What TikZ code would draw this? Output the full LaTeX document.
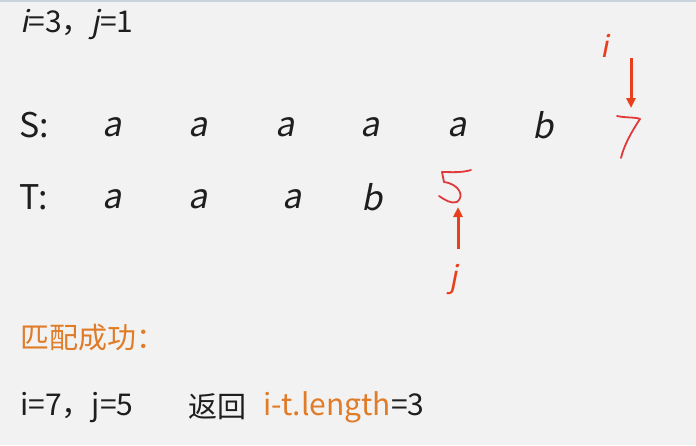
\documentclass[tikz,border=0pt]{standalone}
\usepackage{fontspec}
\setmainfont{Noto Sans CJK SC}[ItalicFont={Noto Sans CJK SC},ItalicFeatures={FakeSlant=0.2}]
\usepackage{tikz}
\usetikzlibrary{arrows.meta,positioning}
\usepackage{xcolor}
\definecolor{PageBack}{HTML}{F2F2F2}
\definecolor{RuleBlue}{HTML}{C9D3DE}
\definecolor{TextMain}{HTML}{1E1E1E}
\definecolor{PenRed}{HTML}{E8401C}
\definecolor{InkRed}{HTML}{E03A3A}
\definecolor{HeadOrange}{HTML}{E07B28}
\tikzset{
  labeltext/.style={anchor=west,inner sep=0pt,text=TextMain,font=\fontsize{30}{32}\selectfont},
  rowname/.style={anchor=west,inner sep=0pt,text=TextMain,font=\fontsize{34}{36}\selectfont},
  letter/.style={anchor=center,inner sep=0pt,text=TextMain,font=\itshape\fontsize{34}{36}\selectfont},
  pointer/.style={anchor=center,inner sep=0pt,text=PenRed,font=\itshape\fontsize{30}{32}\selectfont},
  penarrow/.style={-{Triangle[length=10pt,width=9pt]},line width=3pt,draw=PenRed},
  handwrite/.style={draw=InkRed,line width=1.8pt,line cap=round,line join=round}
}
\begin{document}
\begin{tikzpicture}[x=1pt,y=-1pt]
\fill[PageBack] (0,0) rectangle (696,445);
\useasboundingbox (0,0) rectangle (696,445);
\draw[RuleBlue,line width=2pt] (0,1) -- (696,1);
% state line
\node[labeltext] (state) at (20,25) {\textit{i}=3，\textit{j}=1};
% main string S
\node[rowname] (sname) at (19,125) {S:};
\node[letter] (s1) at (112,127) {a};
\node[letter] (s2) at (198,127) {a};
\node[letter] (s3) at (285,127) {a};
\node[letter] (s4) at (370,127) {a};
\node[letter] (s5) at (457,127) {a};
\node[letter] (s6) at (543,125) {b};
% pattern T
\node[rowname] (tname) at (19,197) {T:};
\node[letter] (t1) at (112,199) {a};
\node[letter] (t2) at (198,199) {a};
\node[letter] (t3) at (292,199) {a};
\node[letter] (t4) at (372,197) {b};
% handwritten indices
\coordinate (seven) at (628,137);
\draw[handwrite] ([shift={(-11,-21)}]seven) .. controls ([shift={(-2,-19)}]seven) and ([shift={(8,-20)}]seven) .. ([shift={(12,-18)}]seven)
  .. controls ([shift={(4,-6)}]seven) and ([shift={(-4,8)}]seven) .. ([shift={(-7,21)}]seven);
\coordinate (five) at (455,186);
\draw[handwrite] ([shift={(16,-16)}]five) .. controls ([shift={(6,-13)}]five) and ([shift={(-4,-14)}]five) .. ([shift={(-13,-14)}]five)
  -- ([shift={(-11,-4)}]five) .. controls ([shift={(4,-2)}]five) and ([shift={(10,10)}]five) .. ([shift={(2,16)}]five)
  .. controls ([shift={(-4,18)}]five) and ([shift={(-10,14)}]five) .. ([shift={(-16,10)}]five);
\node[pointer] (ilab) at (605,46) {i};
\coordinate (itop) at (631,58);
\coordinate (ibot) at (631,108);
\draw[penarrow] (itop) -- (ibot);
\node[pointer] (jlab) at (454,279) {j};
\coordinate (jbot) at (458,249);
\coordinate (jtop) at (458,207);
\draw[penarrow] (jbot) -- (jtop);
% result
\node[labeltext,text=HeadOrange,font=\fontsize{29}{31}\selectfont] (head) at (20,338) {匹配成功：};
\node[labeltext] (final) at (20,407) {i=7，j=5};
\node[labeltext,font=\fontsize{29}{31}\selectfont] (ret) at (188,407) {返回};
\node[labeltext,right=17pt of ret.east,anchor=west] (expr) {\textcolor{HeadOrange}{i-t.length}=3};
\end{tikzpicture}
\end{document}
